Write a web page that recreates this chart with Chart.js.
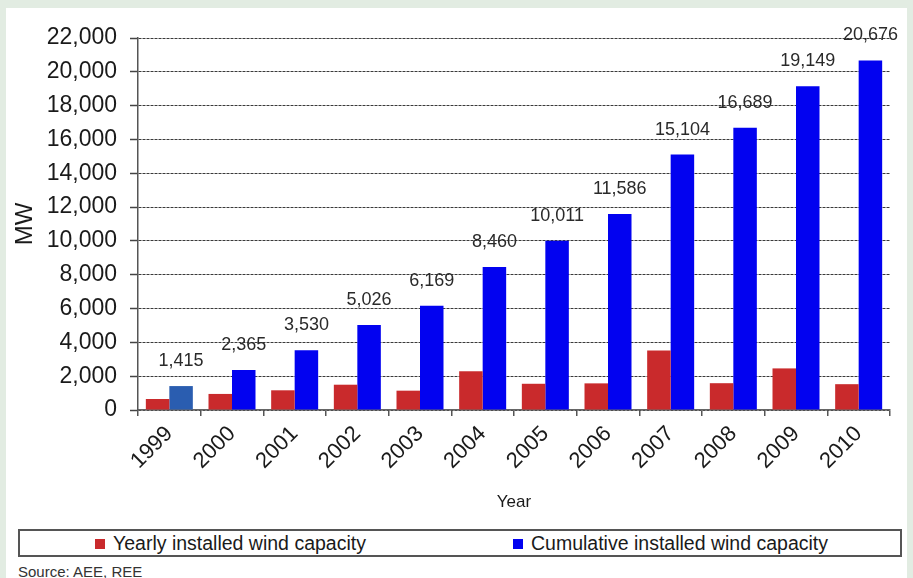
<!DOCTYPE html>
<html>
<head>
<meta charset="utf-8">
<script src="https://cdn.jsdelivr.net/npm/chart.js@4/dist/chart.umd.min.js"></script>
<style>
  html, body { margin: 0; padding: 0; }
  body { width: 913px; height: 578px; background: #e2ece2; position: relative; overflow: hidden;
         font-family: "Liberation Sans", Arial, Helvetica, sans-serif; }
  #panel { position: absolute; left: 6px; top: 8px; width: 901px; height: 570px; background: #ffffff; }
  #wrap { position: absolute; left: 0; top: 0; width: 913px; height: 520px; }
  #legend { position: absolute; left: 18px; top: 529px; width: 884px; height: 28px; box-sizing: border-box;
            border: 2px solid #555; background: #fff; }
  .item { position: absolute; top: 0; height: 24px; line-height: 24px; font-size: 19.5px; color: #1a1a1a; white-space: nowrap; }
  .sw { display: inline-block; width: 10px; height: 10px; margin-right: 8px; vertical-align: 1px; }
  #source { position: absolute; left: 18px; top: 563px; font-size: 15px; color: #333; }
</style>
</head>
<body>
<div id="panel"></div>
<div id="wrap"><canvas id="c" width="913" height="520"></canvas></div>
<div id="legend"></div>
<div id="source">Source: AEE, REE</div>
<script>
// ---- data ----
const years = ['1999','2000','2001','2002','2003','2004','2005','2006','2007','2008','2009','2010'];
const yearlyCapacity = [650, 950, 1165, 1496, 1143, 2291, 1551, 1575, 3518, 1585, 2460, 1527];
const cumulativeCapacity = [1415, 2365, 3530, 5026, 6169, 8460, 10011, 11586, 15104, 16689, 19149, 20676];
const seriesNames = ['Yearly installed wind capacity', 'Cumulative installed wind capacity'];
const yTickValues = [0, 2000, 4000, 6000, 8000, 10000, 12000, 14000, 16000, 18000, 20000, 22000];
const yAxisTitle = 'MW';
const xAxisTitle = 'Year';

const FONT = '"Liberation Sans", Arial, Helvetica, sans-serif';
const RED = '#c92a2c';
const BLUE = '#0202f0';
const BLUE_FIRST = '#2a5db0';

const fmt = v => Number(v).toLocaleString('en-US');

const labelPlugin = {
  id: 'barLabels',
  afterDatasetsDraw(chart) {
    const ctx = chart.ctx;
    const meta = chart.getDatasetMeta(1);
    ctx.save();
    ctx.font = '18px ' + FONT;
    ctx.fillStyle = '#2a2a2a';
    ctx.textAlign = 'center';
    ctx.textBaseline = 'middle';
    meta.data.forEach((bar, i) => {
      ctx.fillText(fmt(cumulativeCapacity[i]), bar.x, bar.y - 25);
    });
    ctx.restore();
  }
};

new Chart(document.getElementById('c'), {
  type: 'bar',
  data: {
    labels: years,
    datasets: [
      { label: seriesNames[0], data: yearlyCapacity, backgroundColor: RED,
        categoryPercentage: 0.75, barPercentage: 1.0 },
      { label: seriesNames[1], data: cumulativeCapacity,
        backgroundColor: c => c.dataIndex === 0 ? BLUE_FIRST : BLUE,
        categoryPercentage: 0.75, barPercentage: 1.0 }
    ]
  },
  options: {
    responsive: false,
    animation: false,
    devicePixelRatio: 1,
    layout: { padding: { left: 8, top: 38, right: 23, bottom: 7 } },
    plugins: { legend: { display: false }, tooltip: { enabled: false } },
    scales: {
      x: {
        afterFit: s => { s.height = 103; },
        grid: { display: true, drawOnChartArea: false, drawTicks: true, tickLength: 6, offset: true,
                color: '#555', tickColor: '#555', lineWidth: 1.5 },
        border: { display: true, color: '#666', width: 1.5 },
        ticks: { maxRotation: 45, minRotation: 45, padding: 5, color: '#1a1a1a',
                 font: { family: FONT, size: 22 } },
        title: { display: true, text: xAxisTitle, color: '#1a1a1a', padding: { top: 0, bottom: 0 },
                 font: { family: FONT, size: 17 } }
      },
      y: {
        min: 0, max: 22000,
        afterFit: s => { s.width = 130; },
        afterBuildTicks: s => { s.ticks = yTickValues.map(v => ({ value: v })); },
        grid: { color: '#3a3a3a', lineWidth: 1, tickLength: 8, tickColor: '#444', tickBorderDash: [], tickWidth: 1.5 },
        border: { display: true, color: '#555', width: 1.5, dash: [3, 1] },
        ticks: { padding: 13, color: '#1a1a1a', font: { family: FONT, size: 23 },
                 callback: v => fmt(v) },
        title: { display: true, text: yAxisTitle, color: '#1a1a1a', padding: { top: 3, bottom: 0 },
                 font: { family: FONT, size: 24 } }
      }
    }
  },
  plugins: [labelPlugin]
});

// HTML legend built from the series names
const legend = document.getElementById('legend');
const legendColors = [RED, BLUE];
const legendLefts = [75, 493];
seriesNames.forEach((name, i) => {
  const d = document.createElement('div');
  d.className = 'item';
  d.style.left = legendLefts[i] + 'px';
  const sw = document.createElement('span');
  sw.className = 'sw';
  sw.style.background = legendColors[i];
  d.appendChild(sw);
  d.appendChild(document.createTextNode(name));
  legend.appendChild(d);
});
</script>
</body>
</html>
